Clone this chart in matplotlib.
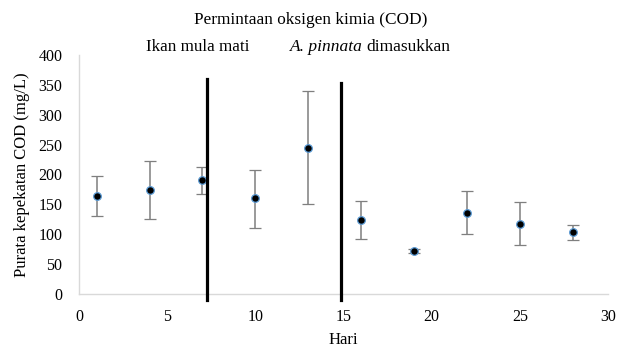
import matplotlib
matplotlib.use("Agg")
import matplotlib.pyplot as plt

hari = [1, 4, 7, 10, 13, 16, 19, 22, 25, 28]
cod = [164, 174, 190, 160, 244, 124, 72, 136, 117, 103]
err_up = [34, 48, 22, 48, 95, 32, 4, 36, 37, 12]
err_dn = [34, 48, 22, 50, 94, 32, 4, 35, 35, 12]

event_x = [7.25, 14.88]
event_top = [360, 353]

xticks = [0, 5, 10, 15, 20, 25, 30]
yticks = [0, 50, 100, 150, 200, 250, 300, 350, 400]

plt.rcParams['font.family'] = ['Liberation Serif', 'DejaVu Serif']

fig = plt.figure(figsize=(6.17, 3.49), dpi=100)
ax = fig.add_axes([79/617, 1-294/349, (608-79)/617, 239/349])

ax.errorbar(hari, cod, yerr=[err_dn, err_up], fmt='o', color='black',
            ecolor='#7f7f7f', elinewidth=1.1, capsize=4, capthick=1.1,
            markersize=5.5, markerfacecolor='black', markeredgecolor='#5b9bd5',
            markeredgewidth=0.9, zorder=3)

for x, top in zip(event_x, event_top):
    ax.plot([x, x], [-10, top], color='black', linewidth=2.3, clip_on=False, zorder=4)

ax.set_xlim(0, 30)
ax.set_ylim(0, 400)
ax.set_xticks(xticks)
ax.set_yticks(yticks)
ax.tick_params(axis='x', length=0, labelsize=11.5, pad=11)
ax.tick_params(axis='y', length=0, labelsize=11.5, pad=12)
for s in ['top', 'right']:
    ax.spines[s].set_visible(False)
for s in ['left', 'bottom']:
    ax.spines[s].set_color('#d9d9d9')
    ax.spines[s].set_linewidth(1)

ax.set_xlabel("Hari", fontsize=12, labelpad=5)
ax.set_ylabel("Purata kepekatan COD (mg/L)", fontsize=12, labelpad=6)

fig.text(311/617, 1-20/349, "Permintaan oksigen kimia (COD)", ha='center', va='center', fontsize=12.4)
fig.text(198/617, 1-47/349, "Ikan mula mati", ha='center', va='center', fontsize=12.3)
fig.text(363/617, 1-47/349, "A. pinnata", ha='right', va='center', fontsize=12.5, fontstyle='italic')
fig.text(366/617, 1-47/349, "dimasukkan", ha='left', va='center', fontsize=12.5)

fig.savefig("out.png", dpi=100)
